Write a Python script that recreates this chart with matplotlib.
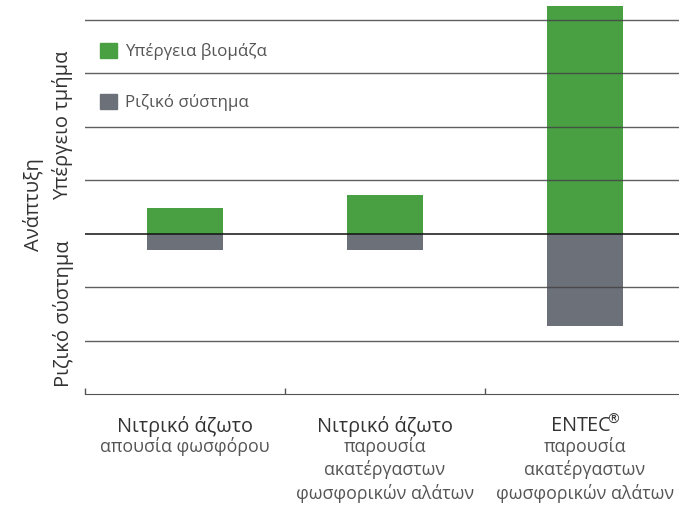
import matplotlib.pyplot as plt
from matplotlib.patches import Patch

plt.rcParams['font.family'] = ['Open Sans', 'DejaVu Sans']

# Data
categories = ['Νιτρικό άζωτο', 'Νιτρικό άζωτο', r'ENTEC$^{\!\!\circledR}$']
subtitles = ['απουσία φωσφόρου',
             'παρουσία\nακατέργαστων\nφωσφορικών αλάτων',
             'παρουσία\nακατέργαστων\nφωσφορικών αλάτων']
shoot = [0.47, 0.73, 4.25]      # Υπέργεια βιομάζα
root = [-0.31, -0.31, -1.73]    # Ριζικό σύστημα

green = '#48a043'
grey = '#6c7079'

fig = plt.figure(figsize=(6.79, 5.05), dpi=100)
ax = fig.add_axes([85 / 679, 111 / 505, 600 / 679, 394 / 505])

x = range(len(categories))
ax.bar(x, shoot, width=0.38, color=green, zorder=1)
ax.bar(x, root, width=0.38, color=grey, zorder=1)

# Grid lines
for y in [-2, -1, 1, 2, 3, 4]:
    ax.axhline(y, color='#444444', lw=1, zorder=2, alpha=0.85)
ax.axhline(0, color='#111111', lw=1.1, zorder=2)

ax.set_xlim(-0.5, 2.5)
ax.set_ylim(-3, 4.37)

for s in ['top', 'right', 'left']:
    ax.spines[s].set_visible(False)
ax.spines['bottom'].set_color('#555555')
ax.set_yticks([])
ax.set_xticks([-0.5, 0.5, 1.5])
ax.set_xticklabels([])
ax.tick_params(axis='x', direction='in', length=4, color='#555555', width=1)

# Category labels
for i, (c, s) in enumerate(zip(categories, subtitles)):
    ax.text(i, -3.6, c, ha='center', va='center', fontsize=14.3, color='#333333')
    ax.text(i, -3.8, s, ha='center', va='top', fontsize=12.8, color='#555555',
            linespacing=1.3)

# Y-axis labels
fig.text(34 / 679, 1 - 205 / 505, 'Ανάπτυξη', rotation=90, ha='center', va='center',
         fontsize=14.5, color='#333333')
fig.text(63 / 679, 1 - 125 / 505, 'Υπέργειο τμήμα', rotation=90, ha='center', va='center',
         fontsize=14.5, color='#333333')
fig.text(63 / 679, 1 - 314 / 505, 'Ριζικό σύστημα', rotation=90, ha='center', va='center',
         fontsize=14.5, color='#333333')

# Legend
handles = [Patch(color=green, label='Υπέργεια βιομάζα'),
           Patch(color=grey, label='Ριζικό σύστημα')]
ax.legend(handles=handles, loc='upper left', bbox_to_anchor=(0.0, 0.93),
          frameon=False, fontsize=12.2, handlelength=1.0, handleheight=1.0,
          handletextpad=0.45, labelspacing=2.0, labelcolor='#555555')

fig.savefig('out.png', dpi=100)
